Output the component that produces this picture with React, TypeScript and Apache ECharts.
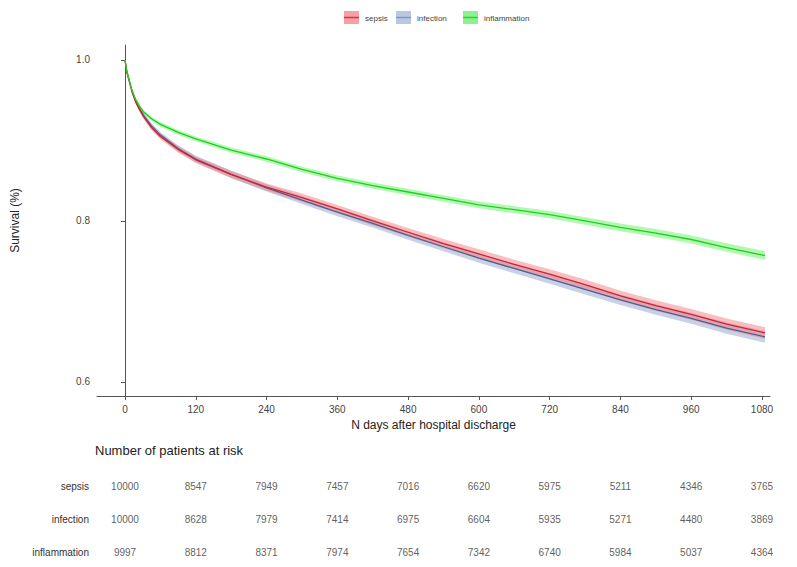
import React, { useEffect, useRef } from "react";
import * as echarts from "echarts";

const days = [0, 3, 7, 12, 18, 25, 32, 45, 60, 90, 120, 180, 240, 300, 360, 420, 480, 540, 600, 660, 720, 780, 840, 900, 960, 1020, 1085];
const sepsis = [1.0, 0.985, 0.974, 0.96, 0.948, 0.938, 0.929, 0.916, 0.905, 0.889, 0.876, 0.858, 0.842, 0.829, 0.815, 0.8, 0.786, 0.772, 0.759, 0.746, 0.734, 0.721, 0.707, 0.695, 0.684, 0.672, 0.661];
const infection = [1.0, 0.986, 0.975, 0.961, 0.949, 0.939, 0.931, 0.918, 0.907, 0.89, 0.877, 0.858, 0.841, 0.826, 0.811, 0.797, 0.782, 0.768, 0.754, 0.741, 0.728, 0.715, 0.702, 0.69, 0.679, 0.667, 0.656];
const inflammation = [1.0, 0.986, 0.975, 0.962, 0.951, 0.942, 0.935, 0.927, 0.92, 0.91, 0.902, 0.888, 0.877, 0.864, 0.853, 0.844, 0.836, 0.828, 0.82, 0.814, 0.808, 0.8, 0.792, 0.785, 0.777, 0.767, 0.757];
const bandHalf = [0, 0.001, 0.0015, 0.002, 0.0025, 0.003, 0.003, 0.0035, 0.0035, 0.004, 0.004, 0.0045, 0.0045, 0.005, 0.005, 0.0052, 0.0054, 0.0056, 0.0058, 0.006, 0.006, 0.0062, 0.0064, 0.0066, 0.0068, 0.007, 0.0072];
const greenHalf = [0, 0.001, 0.0012, 0.0015, 0.002, 0.002, 0.0025, 0.0025, 0.003, 0.003, 0.003, 0.0032, 0.0034, 0.0035, 0.0036, 0.0038, 0.004, 0.004, 0.0042, 0.0044, 0.0045, 0.0046, 0.0048, 0.005, 0.005, 0.0052, 0.0054];

const xTicks = [0, 120, 240, 360, 480, 600, 720, 840, 960, 1080];
const yTicks = [0.6, 0.8, 1.0];
const groups = ["sepsis", "infection", "inflammation"];
const riskSepsis = [10000, 8547, 7949, 7457, 7016, 6620, 5975, 5211, 4346, 3765];
const riskInfection = [10000, 8628, 7979, 7414, 6975, 6604, 5935, 5271, 4480, 3869];
const riskInflammation = [9997, 8812, 8371, 7974, 7654, 7342, 6740, 5984, 5037, 4364];

const X_MIN = -47.5;
const X_MAX = 1093.6;

function bandSeries(name: string, vals: number[], half: number[], lineColor: string, fill: string) {
  const line = days.map((d, i) => [d, vals[i]]);
  return [
    {
      type: "custom",
      name: name + "_band",
      data: [[0, 0]],
      silent: true,
      clip: true,
      renderItem: (params: any, api: any) => {
        const pts: number[][] = [];
        for (let i = 0; i < days.length; i++) pts.push(api.coord([days[i], vals[i] + half[i]]));
        for (let i = days.length - 1; i >= 0; i--) pts.push(api.coord([days[i], vals[i] - half[i]]));
        return { type: "polygon", shape: { points: pts }, style: { fill, stroke: "none" } };
      },
      z: 1,
    },
    {
      type: "line",
      name,
      data: line,
      symbol: "none",
      lineStyle: { color: lineColor, width: 1.3 },
      z: 3,
    },
  ];
}

export default function App() {
  const ref = useRef<HTMLDivElement>(null);
  useEffect(() => {
    if (!ref.current) return;
    const chart = echarts.init(ref.current, null, { renderer: "svg" });
    const font = "Liberation Sans, Arial, sans-serif";
    const riskData: any[] = [];
    [riskSepsis, riskInfection, riskInflammation].forEach((arr, r) => {
      arr.forEach((v, i) => riskData.push([xTicks[i], groups[r], v]));
    });
    const legendItems = [
      { label: "sepsis", x: 344, line: "#e0303a", fill: "#f7a1a6" },
      { label: "infection", x: 396, line: "#7d98c4", fill: "#b9c8df" },
      { label: "inflammation", x: 463, line: "#2bd62b", fill: "#8ff08f" },
    ];
    const legendGraphics: any[] = [];
    legendItems.forEach((it) => {
      legendGraphics.push({
        type: "rect",
        shape: { x: it.x, y: 11, width: 15, height: 13 },
        style: { fill: it.fill },
      });
      legendGraphics.push({
        type: "line",
        shape: { x1: it.x, y1: 17.5, x2: it.x + 15, y2: 17.5 },
        style: { stroke: it.line, lineWidth: 1.5 },
      });
      legendGraphics.push({
        type: "text",
        x: it.x + 21,
        y: 18,
        style: { text: it.label, fontSize: 8, fill: "#444", fontFamily: font, verticalAlign: "middle" },
      });
    });
    legendGraphics.push({
      type: "text",
      x: 95,
      y: 450,
      style: { text: "Number of patients at risk", fontSize: 13, fill: "#222", fontFamily: font, verticalAlign: "middle" },
    });

    chart.setOption({
      animation: false,
      backgroundColor: "#ffffff",
      grid: [
        { left: 97, right: 27, top: 45, bottom: 171, outerBoundsMode: "none", containLabel: false },
        { left: 97, right: 27, top: 470, height: 99, outerBoundsMode: "none", containLabel: false },
      ],
      xAxis: [
        {
          type: "value",
          gridIndex: 0,
          min: X_MIN,
          max: X_MAX,
          name: "N days after hospital discharge",
          nameLocation: "middle",
          nameGap: 22,
          nameTextStyle: { fontSize: 12, color: "#222", fontFamily: font },
          axisLine: { show: true, lineStyle: { color: "#555", width: 1 } },
          axisTick: { show: true, length: 4, lineStyle: { color: "#555" }, customValues: xTicks },
          axisLabel: { fontSize: 10, color: "#444", margin: 8, fontFamily: font, customValues: xTicks, formatter: (v: number) => String(v) },
          splitLine: { show: false },
        },
        {
          type: "value",
          gridIndex: 1,
          min: X_MIN,
          max: X_MAX,
          show: false,
        },
      ],
      yAxis: [
        {
          type: "value",
          gridIndex: 0,
          min: 0.5826,
          max: 1.0186,
          name: "Survival (%)",
          nameLocation: "middle",
          nameGap: 76,
          nameTextStyle: { fontSize: 12, color: "#222", fontFamily: font },
          axisLine: { show: true, lineStyle: { color: "#555", width: 1 } },
          axisTick: { show: true, length: 4, lineStyle: { color: "#555" }, customValues: yTicks },
          axisLabel: { fontSize: 10, color: "#444", margin: 7, fontFamily: font, customValues: yTicks, formatter: (v: number) => v.toFixed(1) },
          splitLine: { show: false },
        },
        {
          type: "category",
          gridIndex: 1,
          data: groups,
          inverse: true,
          axisLine: { show: false },
          axisTick: { show: false },
          axisLabel: { fontSize: 10, color: "#333", margin: 8, fontFamily: font },
          splitLine: { show: false },
        },
      ],
      series: [
        ...bandSeries("infection", infection, bandHalf, "#4f5f92", "rgba(130,155,200,0.45)"),
        ...bandSeries("sepsis", sepsis, bandHalf, "#d42030", "rgba(245,110,115,0.45)"),
        ...bandSeries("inflammation", inflammation, greenHalf, "#1fcf1f", "rgba(60,240,60,0.4)"),
        {
          type: "scatter",
          xAxisIndex: 1,
          yAxisIndex: 1,
          data: riskData,
          symbolSize: 0,
          label: {
            show: true,
            position: "inside",
            fontSize: 10,
            color: "#333",
            fontFamily: font,
            formatter: (p: any) => String(p.value[2]),
          },
          silent: true,
        },
      ],
      graphic: legendGraphics,
    });
    return () => chart.dispose();
  }, []);
  return <div ref={ref} style={{ position: "fixed", left: 0, top: 0, width: 797, height: 567 }} />;
}
